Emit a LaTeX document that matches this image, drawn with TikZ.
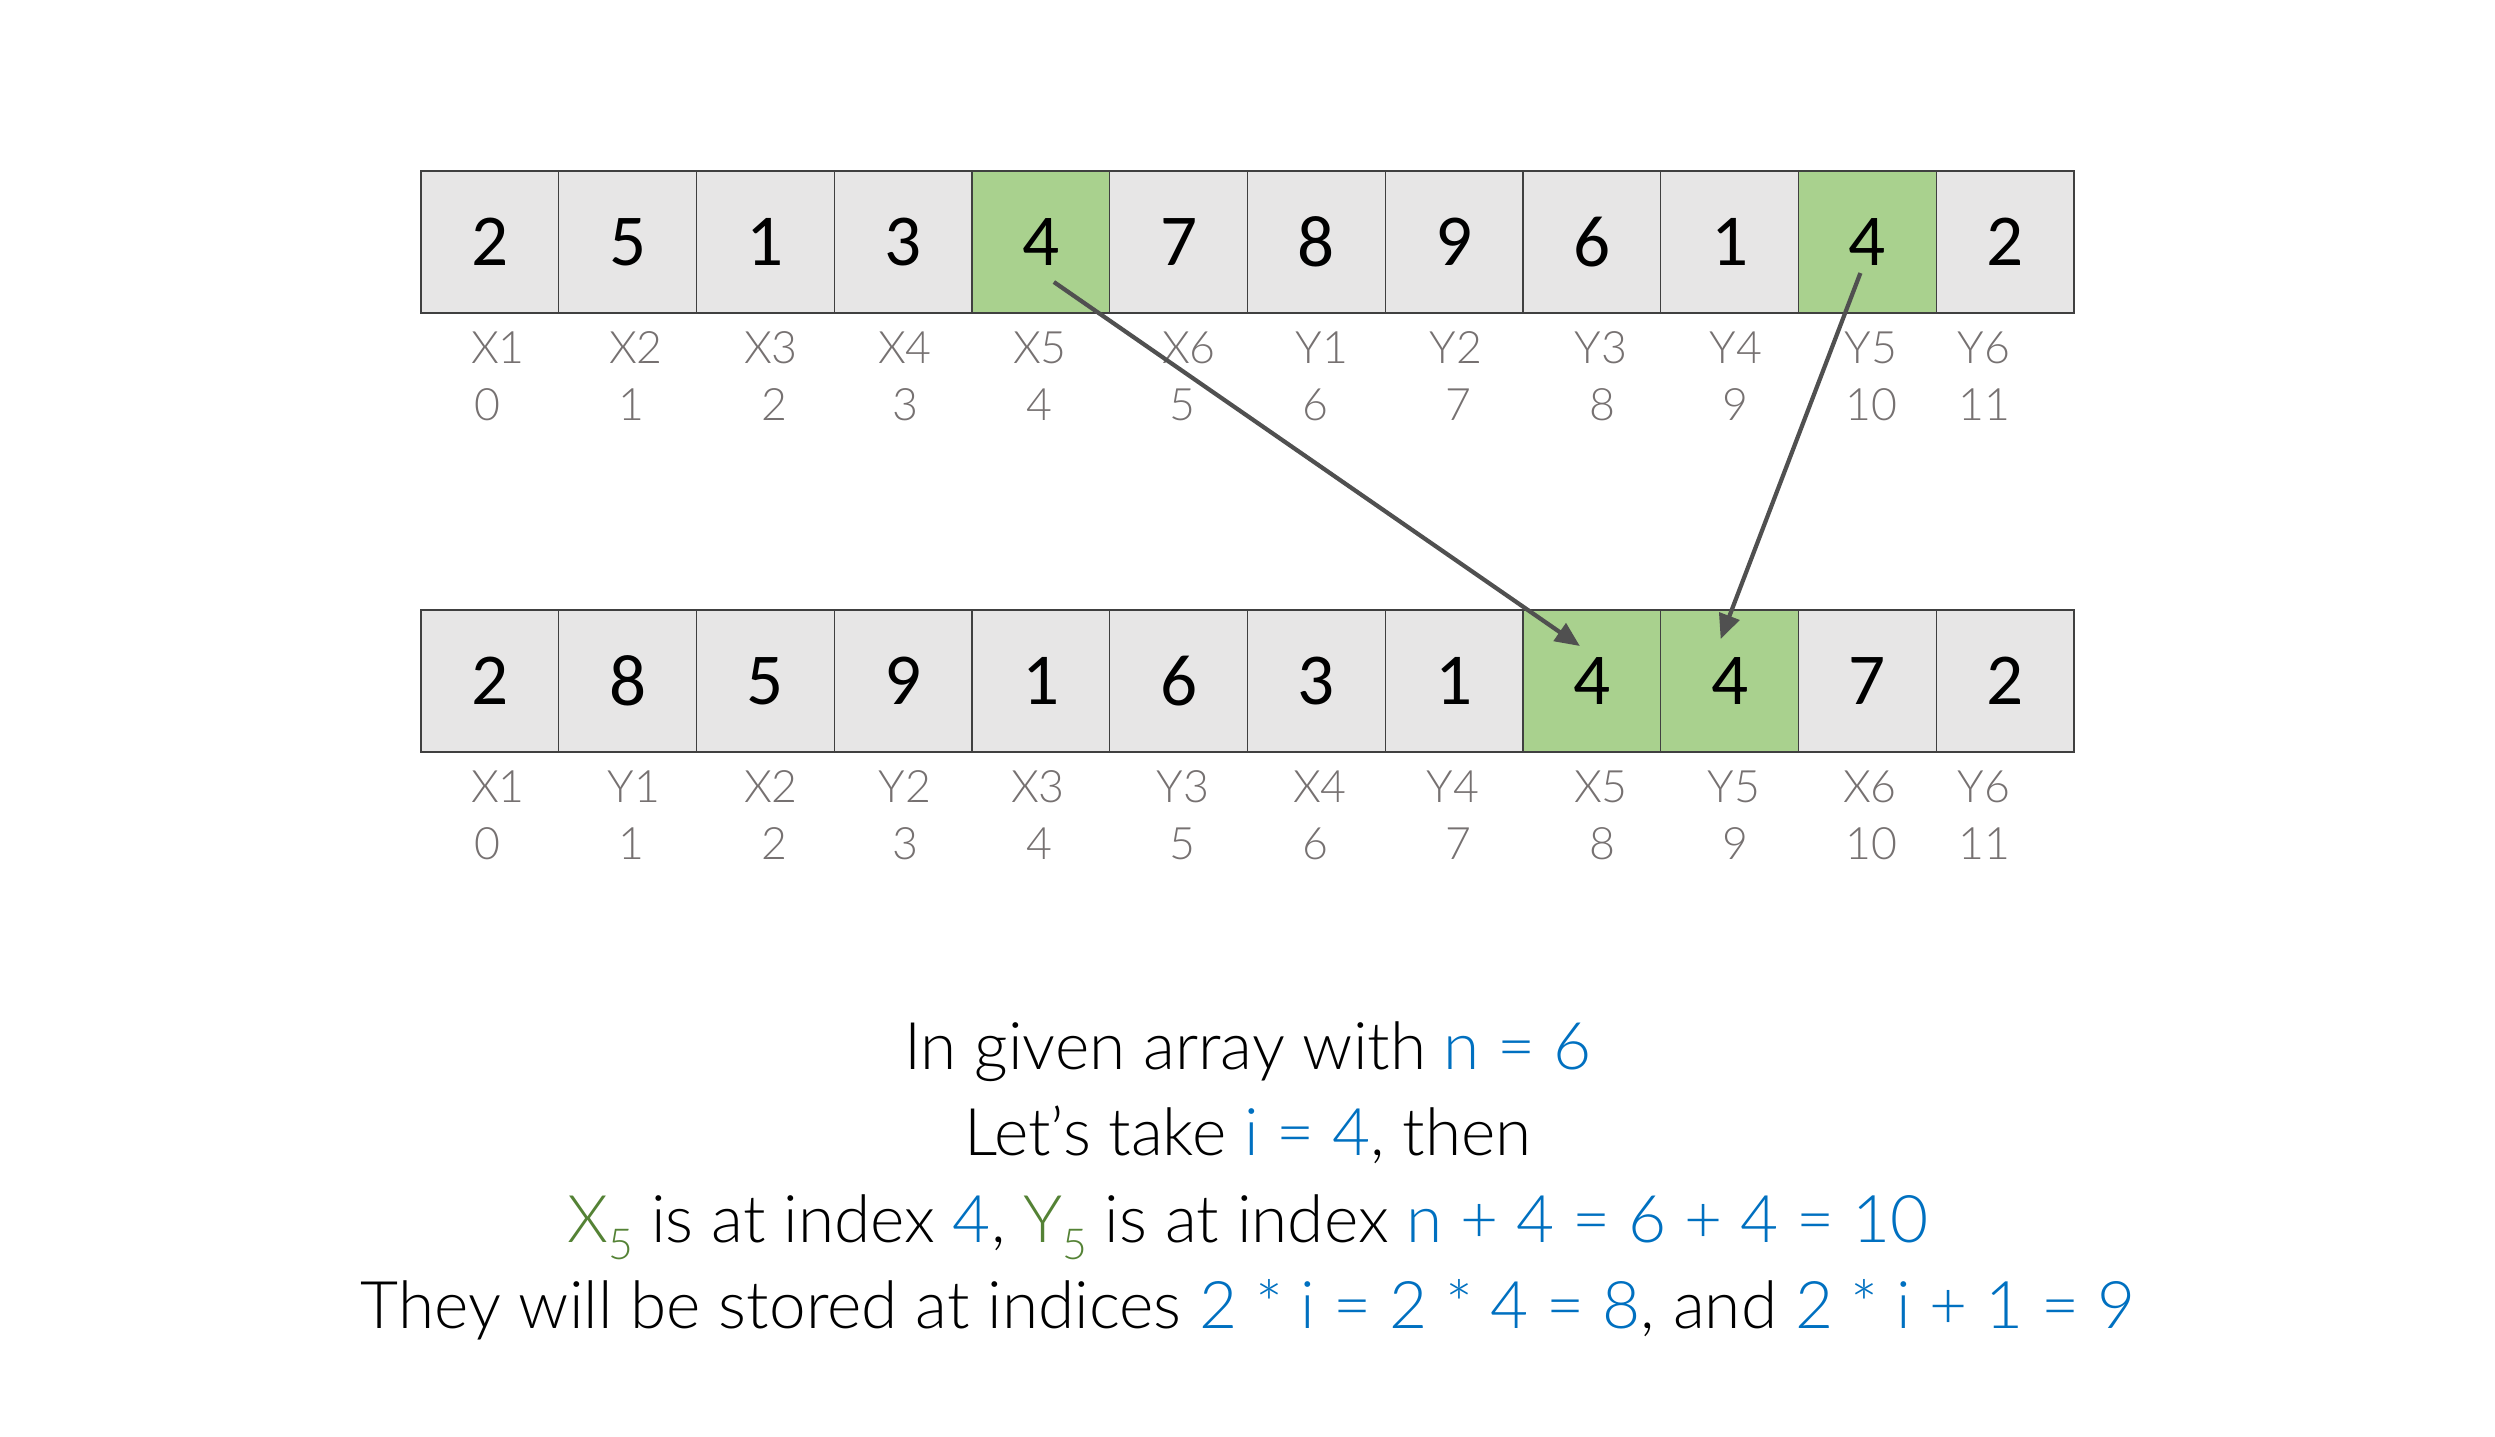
\documentclass[tikz,border=0pt]{standalone}
\usepackage{fontspec}
\setmainfont{Carlito}
\newfontfamily\lightfont{Lato Light}[Scale=0.934]
\usetikzlibrary{arrows.meta,calc}
\definecolor{cellgray}{HTML}{E7E6E6}
\definecolor{cellgreen}{HTML}{A9D18E}
\definecolor{lblgray}{HTML}{767171}
\definecolor{txtblue}{HTML}{0070C0}
\definecolor{txtgreen}{HTML}{548235}
\definecolor{arrowgray}{HTML}{505050}
\newcommand{\subfive}{\raisebox{-0.26em}{\fontsize{13}{13}\selectfont 5}}
\begin{document}
\begin{tikzpicture}[x=0.01cm,y=-0.01cm,
 cell/.style={draw=black!75, line width=0.4pt, fill=cellgray, minimum width=1.3775cm, minimum height=1.42cm, inner sep=0pt, outer sep=0pt, font=\fontsize{20.8}{24}\selectfont},
 hl/.style={cell, fill=cellgreen},
 lbl/.style={anchor=base, text=lblgray, font=\lightfont\fontsize{13.6}{16}\selectfont, inner sep=0pt},
 txtline/.style={anchor=base, font=\lightfont\fontsize{20}{24}\selectfont, inner sep=0pt},
 mv/.style={draw=arrowgray, line width=1.2pt, -{Triangle[length=7pt,width=6pt]}},
]
\useasboundingbox (0,0) rectangle (2495,1436);
% top array
\foreach \v/\s [count=\i from 0] in {2/cell,5/cell,1/cell,3/cell,4/hl,7/cell,8/cell,9/cell,6/cell,1/cell,4/hl,2/cell}
  \node[\s] (t\i) at ({421+137.75*(\i+0.5)},242) {\v};
% bottom array
\foreach \v/\s [count=\i from 0] in {2/cell,8/cell,5/cell,9/cell,1/cell,6/cell,3/cell,1/cell,4/hl,4/hl,7/cell,2/cell}
  \node[\s] (b\i) at ({421+137.75*(\i+0.5)},681) {\v};
% top labels
\foreach \n/\x [count=\i from 0] in {X1/498,X2/636,X3/771,X4/905,X5/1040,X6/1189,Y1/1322,Y2/1456,Y3/1601,Y4/1736,Y5/1871,Y6/1984}
  \node[lbl] (tn\i) at (\x,363) {\n};
\foreach \n/\x [count=\i from 0] in {0/487,1/631,2/774,3/905,4/1039,5/1182,6/1315,7/1458,8/1602,9/1735,10/1871,11/1984}
  \node[lbl] (ti\i) at (\x,420) {\n};
% bottom labels
\foreach \n/\x [count=\i from 0] in {X1/498,Y1/634,X2/771,Y2/905,X3/1038,Y3/1183,X4/1320,Y4/1453,X5/1601,Y5/1734,X6/1870,Y6/1984}
  \node[lbl] (bn\i) at (\x,802) {\n};
\foreach \n/\x [count=\i from 0] in {0/487,1/631,2/774,3/905,4/1039,5/1182,6/1315,7/1458,8/1602,9/1735,10/1871,11/1984}
  \node[lbl] (bi\i) at (\x,859) {\n};
% arrows
\coordinate (a1s) at ($(t4.center)+(13,40)$);
\coordinate (a1e) at ($(b8.center)+(-12,-35)$);
\coordinate (a2s) at ($(t10.center)+(-7,31)$);
\coordinate (a2e) at ($(b9.center)+(-9,-42)$);
\draw[mv] (a1s) -- (a1e);
\draw[mv] (a2s) -- (a2e);
% text
\node[txtline] (l1) at (1248,1069) {In given array with \textcolor{txtblue}{n = 6}};
\node[txtline] (l2) at (1248,1155) {Let’s take \textcolor{txtblue}{i = 4}, then};
\node[txtline] (l3) at (1248,1242) {\textcolor{txtgreen}{X\subfive} is at index \textcolor{txtblue}{4}, \textcolor{txtgreen}{Y\subfive} is at index \textcolor{txtblue}{n + 4 = 6 + 4 = 10}};
\node[txtline] (l4) at (1248,1328) {They will be stored at indices \textcolor{txtblue}{2 * i = 2 * 4 = 8}, and \textcolor{txtblue}{2 * i + 1 = 9}};
\end{tikzpicture}
\end{document}
